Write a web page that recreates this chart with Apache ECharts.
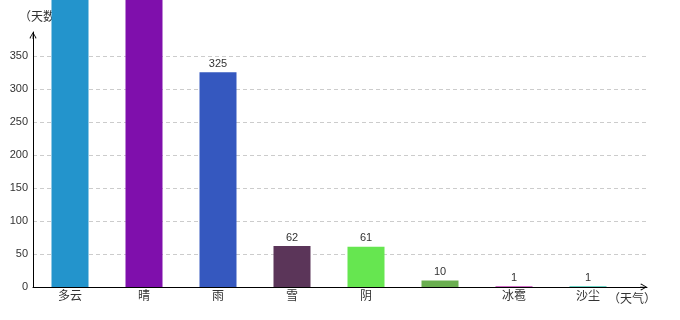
<!DOCTYPE html>
<html>
<head>
<meta charset="utf-8">
<script src="https://cdn.jsdelivr.net/npm/echarts@6/dist/echarts.min.js"></script>
<style>html,body{margin:0;padding:0;background:#fff}#c{width:680px;height:320px}</style>
</head>
<body>
<div id="c"></div>
<script>
var categories = ['多云', '晴', '雨', '雪', '阴', '', '冰雹', '沙尘'];
var values = [520, 480, 325, 62, 61, 10, 1, 1];
var barColors = ['#2394CC', '#7F0FAC', '#3558BF', '#5B3559', '#66E650', '#6AAF50', '#C03CB4', '#3CC8B4'];
var yTickInterval = 50;
var yMax = 386;
var xName = '（天气）';
var yName = '（天数）';

var FONT = "'Liberation Sans', 'Noto Sans CJK SC', sans-serif";
var arrowPath = 'path://M5,0 L10,8.5 L9,9.5 L5.5,2.5 L5.5,10 L4.5,10 L4.5,2.5 L1,9.5 L0,8.5 Z';

var chart = echarts.init(document.getElementById('c'), null, {renderer: 'canvas'});
chart.setOption({
  animation: false,
  backgroundColor: '#fff',
  grid: [
    {left: 33, right: 33, top: 32, bottom: 33},
    {left: 33, width: 592, top: 32, bottom: 33}
  ],
  xAxis: [
    {
      gridIndex: 0, type: 'value', min: 0, max: 1,
      axisLine: {show: true, lineStyle: {color: '#000', width: 1}, symbol: ['none', arrowPath], symbolSize: [7, 7], symbolOffset: [0, -3.5]},
      axisTick: {show: false}, axisLabel: {show: false}, splitLine: {show: false},
      name: xName, nameLocation: 'end', nameGap: -39,
      nameTextStyle: {align: 'left', verticalAlign: 'top', padding: [7, 0, 0, 0], color: '#333', fontSize: 12, fontFamily: FONT}
    },
    {
      gridIndex: 1, type: 'category', data: categories,
      axisLine: {show: false}, axisTick: {show: false},
      axisLabel: {color: '#333', fontSize: 12, margin: 4, fontFamily: FONT, interval: 0}
    }
  ],
  yAxis: [
    {
      gridIndex: 0, type: 'value', min: 0, max: yMax, interval: yTickInterval,
      axisLine: {show: true, lineStyle: {color: '#000', width: 1}, symbol: ['none', arrowPath], symbolSize: [7, 7], symbolOffset: [0, -3.5]},
      axisTick: {show: false},
      axisLabel: {color: '#333', fontSize: 11, margin: 5, fontFamily: FONT, showMaxLabel: false},
      splitLine: {show: true, showMaxLine: false, lineStyle: {color: '#ccc', type: [4, 3], width: 1}},
      name: yName, nameLocation: 'end', nameGap: 8,
      nameTextStyle: {align: 'center', padding: [0, 0, 0, 20], color: '#333', fontSize: 12, fontFamily: FONT}
    },
    {
      gridIndex: 1, type: 'value', min: 0, max: yMax, interval: yTickInterval, show: false,
      splitLine: {show: false}
    }
  ],
  series: [{
    type: 'bar',
    xAxisIndex: 1, yAxisIndex: 1,
    barWidth: 37,
    clip: false,
    z: 3,
    label: {show: true, position: 'top', distance: 3, color: '#333', fontSize: 11, fontFamily: FONT},
    data: values.map(function (v, i) { return {value: v, itemStyle: {color: barColors[i]}}; })
  }]
});
</script>
</body>
</html>
